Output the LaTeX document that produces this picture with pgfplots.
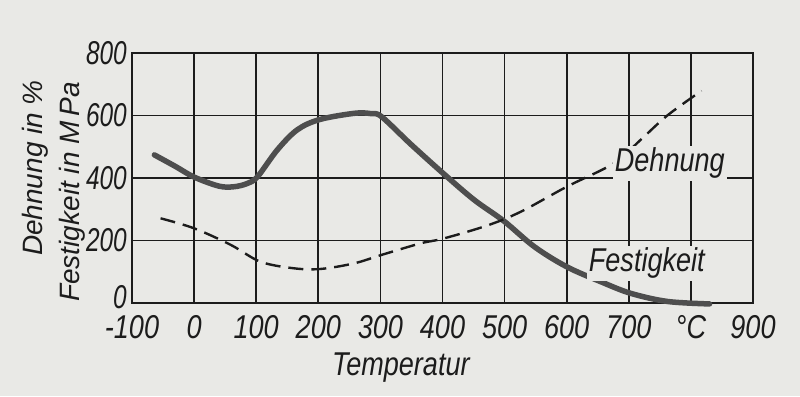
\documentclass[border=0pt]{standalone}
\usepackage{fontspec}
\setmainfont{Liberation Sans}[FakeStretch=0.82]
\newfontfamily\ylabfont{Liberation Sans}
\newfontfamily\ytickfont{Liberation Sans}[FakeStretch=0.74]
\usepackage{pgfplots}
\pgfplotsset{compat=1.18}
\usetikzlibrary{backgrounds}
\definecolor{paper}{HTML}{E9E9E6}
\definecolor{ink}{HTML}{1C1C1C}
\definecolor{curvegray}{HTML}{4E4E4E}
\begin{document}
\begin{tikzpicture}
\begin{axis}[
  width=621pt, height=250pt, scale only axis,
  xmin=-100, xmax=900, ymin=0, ymax=800,
  xtick={-100,0,100,200,300,400,500,600,700,800,900},
  xticklabels={-100,0,100,200,300,400,500,600,700,°C,900},
  ytick={0,200,400,600,800},
  yticklabels={\raisebox{13pt}{0},200,400,600,800},
  major tick length=0pt,
  grid=major,
  major grid style={line width=1.7pt, color=ink},
  axis line style={line width=2.1pt, color=ink},
  tick label style={font=\fontsize{33}{36}\selectfont\itshape, inner sep=0pt, text=ink},
  yticklabel style={font=\ytickfont\fontsize{33}{36}\selectfont\itshape},
  xticklabel shift=12pt,
  yticklabel shift=5pt,
  clip=false,
]
\addplot[color=curvegray, line width=5.5pt, smooth, line cap=round, tension=0.55] coordinates {
(-64,474) (-30,437) (0,403) (40,374) (64,372) (85,382) (102,404) (134,490) (166,554) (202,587) (258,607) (285,606) (302,596) (349,508) (401,415) (451,330) (499,262) (548,180) (600,116) (655,68) (703,31) (762,5) (830,-3)
};
\addplot[color=ink, line width=2.4pt, smooth, dash pattern=on 15pt off 8pt, tension=0.55] coordinates {
(-54,271) (0,239) (59,186) (107,132) (161,111) (204,109) (258,127) (302,154) (365,191) (401,206) (472,248) (526,292) (600,372) (676,447) (719,522) (762,600) (817,679)
};
\node[anchor=base, fill=paper, inner sep=2pt, font=\fontsize{33}{36}\selectfont\itshape, text=ink] at (axis cs:766,420) {Dehnung};
\node[anchor=base, fill=paper, inner sep=2pt, font=\fontsize{33}{36}\selectfont\itshape, text=ink] at (axis cs:729,100) {Festigkeit};
\node[anchor=base, font=\fontsize{33}{36}\selectfont\itshape, text=ink] at (axis cs:333,-233) {Temperatur};
\node[anchor=base, rotate=90, font=\ylabfont\fontsize{28}{32}\selectfont\itshape, text=ink] at (axis cs:-244,432) {Dehnung in \%};
\node[anchor=base, rotate=90, font=\ylabfont\fontsize{28}{32}\selectfont\itshape, text=ink] at (axis cs:-184,355) {Festigkeit in M\,Pa};
\coordinate (BL) at (rel axis cs:0,0);
\coordinate (TR) at (rel axis cs:1,1);
\end{axis}
\begin{pgfonlayer}{background}
\fill[paper] ([shift={(-132pt,-93pt)}]BL) rectangle ([shift={(47pt,53pt)}]TR);
\end{pgfonlayer}
\pgfresetboundingbox
\path[use as bounding box] ([shift={(-132pt,-93pt)}]BL) rectangle ([shift={(47pt,53pt)}]TR);
\end{tikzpicture}
\end{document}
